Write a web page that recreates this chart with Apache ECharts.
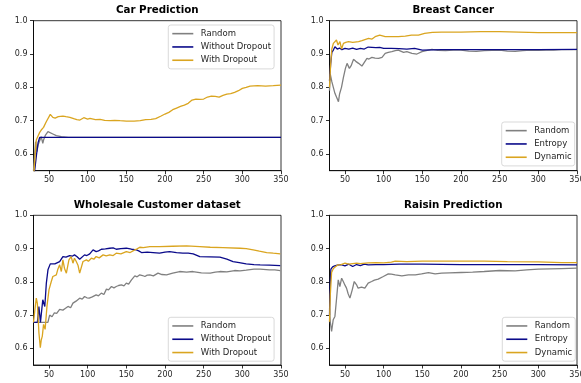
<!DOCTYPE html>
<html><head><meta charset="utf-8">
<script src="https://cdn.jsdelivr.net/npm/echarts@6/dist/echarts.min.js"></script>
<style>html,body{margin:0;padding:0;background:#fff}#c{width:581px;height:383px}</style>
</head><body><div id="c"></div><script>
// ---- tick labels ----
const xTicks = [50, 100, 150, 200, 250, 300, 350];
const yTicks = [0.6, 0.7, 0.8, 0.9, 1.0];
const titles = ['Car Prediction', 'Breast Cancer', 'Wholesale Customer dataset', 'Raisin Prediction'];
const namesDropout = ['Random', 'Without Dropout', 'With Dropout'];
const namesEntropy = ['Random', 'Entropy', 'Dynamic'];

// ---- Car Prediction ----
const carRandomX = [30, 31.5, 32.7, 34.4, 36, 38, 40, 42, 43, 45.5, 48.7, 50.5, 55, 59.5, 66, 75, 350];
const carRandomY = [0.55, 0.60, 0.637, 0.607, 0.628, 0.64, 0.652, 0.632, 0.642, 0.657, 0.667, 0.665, 0.66, 0.655, 0.652, 0.65, 0.65];
const carNoDropX = [30, 31.5, 34, 36, 38, 350];
const carNoDropY = [0.5, 0.55, 0.60, 0.635, 0.65, 0.65];
const carDropX = [30, 31, 33.6, 36, 38, 40, 43, 46.5, 49, 51.7, 53, 55, 58, 62, 68, 72, 77, 82, 86, 90, 95, 100, 103, 110, 116, 122, 129, 135, 142, 150, 160, 168, 175, 182, 188, 195, 200, 205, 210, 215, 220, 225, 230, 235, 240, 245, 250, 255, 260, 265, 270, 275, 280, 285, 290, 295, 300, 305, 310, 320, 330, 340, 350];
const carDropY = [0.52, 0.56, 0.642, 0.655, 0.665, 0.672, 0.68, 0.697, 0.70, 0.719, 0.716, 0.71, 0.708, 0.712, 0.714, 0.712, 0.71, 0.706, 0.703, 0.702, 0.709, 0.705, 0.707, 0.703, 0.704, 0.701, 0.70, 0.701, 0.70, 0.699, 0.699, 0.70, 0.703, 0.704, 0.706, 0.714, 0.72, 0.725, 0.733, 0.738, 0.743, 0.747, 0.752, 0.762, 0.765, 0.764, 0.765, 0.771, 0.774, 0.773, 0.771, 0.776, 0.78, 0.781, 0.785, 0.79, 0.797, 0.80, 0.804, 0.805, 0.804, 0.805, 0.807];

// ---- Breast Cancer ----
const bcRandomX = [30, 31, 33, 37, 41.6, 43, 45.5, 48, 50.6, 52.7, 55.7, 58, 61, 64, 67.6, 71.9, 74, 78.4, 81, 84.8, 89, 93.5, 97.9, 102, 106, 110.6, 115, 119, 125.8, 130, 136.6, 143, 149.6, 155, 162.5, 170, 180, 190, 200, 210, 220, 230, 240, 250, 260, 270, 280, 290, 300, 310, 320, 330, 340, 350];
const bcRandomY = [0.79, 0.84, 0.817, 0.782, 0.757, 0.78, 0.80, 0.83, 0.857, 0.872, 0.857, 0.865, 0.884, 0.878, 0.872, 0.864, 0.87, 0.887, 0.885, 0.89, 0.888, 0.887, 0.89, 0.902, 0.905, 0.907, 0.91, 0.912, 0.905, 0.907, 0.902, 0.90, 0.907, 0.91, 0.914, 0.911, 0.91, 0.912, 0.912, 0.909, 0.908, 0.91, 0.911, 0.912, 0.909, 0.908, 0.91, 0.912, 0.911, 0.912, 0.912, 0.913, 0.913, 0.913];
const bcEntropyX = [30, 31.5, 33, 35, 37, 40, 43, 46, 50, 55, 60, 65, 70, 75, 80, 85, 90, 95, 100, 110, 120, 130, 140, 150, 175, 200, 250, 300, 350];
const bcEntropyY = [0.82, 0.87, 0.905, 0.912, 0.922, 0.915, 0.918, 0.913, 0.917, 0.915, 0.918, 0.914, 0.917, 0.915, 0.921, 0.92, 0.919, 0.92, 0.917, 0.917, 0.916, 0.915, 0.917, 0.912, 0.913, 0.913, 0.913, 0.913, 0.914];
const bcDynamicX = [30, 31.5, 33, 35, 37, 39, 41, 43.5, 45.6, 48, 51, 54.6, 60, 67.6, 72, 80.5, 85, 89, 95, 102, 110, 119, 128, 136, 145, 153, 163, 175, 200, 225, 250, 275, 300, 325, 350];
const bcDynamicY = [0.80, 0.87, 0.915, 0.932, 0.928, 0.942, 0.927, 0.937, 0.915, 0.932, 0.935, 0.937, 0.935, 0.937, 0.94, 0.947, 0.945, 0.952, 0.957, 0.952, 0.952, 0.952, 0.954, 0.957, 0.957, 0.962, 0.965, 0.966, 0.966, 0.967, 0.967, 0.966, 0.964, 0.964, 0.964];

// ---- Wholesale Customer dataset ----
const wsRandomX = [30, 48.6, 50.9, 54, 57, 60, 63.8, 68, 71, 74.6, 78, 81, 85, 89.7, 93, 96, 99, 102, 106, 111, 114, 117.7, 121, 124.3, 127, 130.8, 134, 137, 140, 143.7, 147, 150, 153, 156.7, 159, 161, 164, 167.4, 171, 174, 177, 180.4, 185, 191, 196, 202, 210, 219, 228, 236, 247, 258.5, 265, 271, 280, 290, 297, 305, 315, 323, 335, 342, 349];
const wsRandomY = [0.678, 0.678, 0.70, 0.695, 0.707, 0.705, 0.717, 0.715, 0.72, 0.726, 0.722, 0.736, 0.742, 0.751, 0.748, 0.756, 0.752, 0.751, 0.755, 0.761, 0.758, 0.766, 0.762, 0.778, 0.776, 0.786, 0.782, 0.786, 0.789, 0.791, 0.788, 0.796, 0.793, 0.806, 0.812, 0.818, 0.815, 0.821, 0.819, 0.816, 0.82, 0.821, 0.818, 0.826, 0.822, 0.821, 0.826, 0.831, 0.829, 0.831, 0.827, 0.826, 0.829, 0.831, 0.83, 0.834, 0.833, 0.835, 0.838, 0.838, 0.836, 0.836, 0.834];
const wsNoDropX = [30, 35, 37, 39, 42, 44.6, 46.6, 48.7, 51.7, 54, 57.6, 60, 63.8, 68, 72, 76.7, 80, 83, 86, 89.7, 92, 96, 99, 102.7, 105, 107, 111, 114, 117.8, 123, 128.6, 133, 137, 143, 150, 156.7, 163, 166, 169.6, 177, 184.7, 193, 200, 206, 215, 223, 230, 236.5, 245, 258, 271, 280, 288, 296, 305, 315, 323, 335, 349];
const wsNoDropY = [0.678, 0.678, 0.726, 0.678, 0.746, 0.726, 0.796, 0.836, 0.854, 0.856, 0.854, 0.858, 0.861, 0.876, 0.874, 0.879, 0.877, 0.881, 0.876, 0.868, 0.872, 0.881, 0.879, 0.884, 0.882, 0.896, 0.891, 0.893, 0.898, 0.899, 0.901, 0.902, 0.898, 0.90, 0.901, 0.898, 0.896, 0.893, 0.888, 0.889, 0.888, 0.886, 0.889, 0.891, 0.888, 0.886, 0.886, 0.884, 0.876, 0.875, 0.874, 0.868, 0.861, 0.858, 0.854, 0.852, 0.851, 0.85, 0.849];
const wsDropX = [30, 32, 33.6, 35, 35.8, 37, 38.8, 40, 41.4, 43, 45, 47.4, 50, 51.5, 53, 55, 57, 59.5, 61.5, 63.8, 66, 68, 70, 72.5, 75.8, 78.7, 81, 83, 85.3, 87.5, 89.7, 92, 94, 98.4, 101, 104.8, 108, 111, 115, 120, 124, 128.6, 133, 137, 143, 150, 155, 161, 164, 167.4, 172, 180.4, 193, 210, 228, 245, 258.5, 275, 297, 305, 314, 322, 331.5, 340, 349];
const wsDropY = [0.678, 0.72, 0.751, 0.735, 0.741, 0.647, 0.602, 0.625, 0.637, 0.672, 0.657, 0.726, 0.776, 0.77, 0.801, 0.816, 0.81, 0.821, 0.838, 0.851, 0.831, 0.866, 0.841, 0.826, 0.866, 0.876, 0.856, 0.871, 0.861, 0.85, 0.826, 0.831, 0.861, 0.866, 0.862, 0.871, 0.868, 0.876, 0.872, 0.881, 0.878, 0.881, 0.879, 0.886, 0.884, 0.891, 0.888, 0.896, 0.899, 0.904, 0.903, 0.906, 0.906, 0.907, 0.908, 0.906, 0.904, 0.903, 0.901, 0.90, 0.896, 0.892, 0.888, 0.886, 0.884];

// ---- Raisin Prediction ----
const rsRandomX = [30, 31, 32.7, 34.8, 37, 39, 41.3, 43.4, 45.7, 47.8, 50, 52, 54, 56.4, 59.4, 62, 65, 67, 71.4, 75.7, 80, 84.5, 88, 93, 99.6, 106, 110, 115, 123.6, 132, 141, 149, 158, 166.6, 175, 185, 200, 215, 230, 250, 270, 285, 300, 315, 330, 350];
const rsRandomY = [0.72, 0.68, 0.651, 0.686, 0.696, 0.746, 0.806, 0.786, 0.811, 0.801, 0.79, 0.781, 0.765, 0.751, 0.776, 0.801, 0.791, 0.781, 0.784, 0.781, 0.796, 0.801, 0.805, 0.808, 0.816, 0.824, 0.823, 0.821, 0.818, 0.821, 0.821, 0.824, 0.828, 0.824, 0.826, 0.827, 0.828, 0.829, 0.831, 0.834, 0.833, 0.836, 0.838, 0.839, 0.84, 0.841];
const rsEntropyX = [30, 31, 31.8, 34, 36.7, 40, 45, 50, 55, 60, 65, 70, 75, 80, 90, 100, 120, 150, 200, 250, 300, 350];
const rsEntropyY = [0.70, 0.80, 0.838, 0.845, 0.848, 0.85, 0.852, 0.848, 0.853, 0.846, 0.852, 0.849, 0.853, 0.851, 0.852, 0.852, 0.853, 0.853, 0.852, 0.852, 0.852, 0.851];
const rsDynamicX = [30, 31, 32.7, 35, 38, 41, 45, 50, 55, 60, 65, 70, 80, 90, 100, 110, 115, 130, 150, 175, 200, 230, 260, 300, 330, 350];
const rsDynamicY = [0.68, 0.76, 0.828, 0.84, 0.846, 0.851, 0.852, 0.856, 0.853, 0.855, 0.856, 0.855, 0.857, 0.858, 0.857, 0.859, 0.862, 0.861, 0.862, 0.862, 0.862, 0.862, 0.861, 0.86, 0.858, 0.858];

// ---- build ----
const GRAY = '#808080', NAVY = '#0a0a8a', GOLD = '#DAA520';
const FONT = '"DejaVu Sans", sans-serif';
const gridBoxes = [
  {left: 33.5, top: 20.7, width: 247.5, height: 150},
  {left: 329.5, top: 20.7, width: 247.5, height: 150},
  {left: 33.5, top: 215.3, width: 247.5, height: 149.7},
  {left: 329.5, top: 215.3, width: 247.5, height: 149.7}
];
const legendPos = [
  {left: 168.3, top: 25},
  {left: 501.7, top: 122},
  {left: 168.3, top: 317.3},
  {left: 502.3, top: 317.3}
];
const titleTop = [5, 5, 200, 200];
const pairs = (xs, ys) => xs.map((x, i) => [x, ys[i]]);
const seriesDefs = [
  [0, namesDropout[0], GRAY, carRandomX, carRandomY],
  [0, namesDropout[1], NAVY, carNoDropX, carNoDropY],
  [0, namesDropout[2], GOLD, carDropX, carDropY],
  [1, namesEntropy[0], GRAY, bcRandomX, bcRandomY],
  [1, namesEntropy[1], NAVY, bcEntropyX, bcEntropyY],
  [1, namesEntropy[2], GOLD, bcDynamicX, bcDynamicY],
  [2, namesDropout[0], GRAY, wsRandomX, wsRandomY],
  [2, namesDropout[1], NAVY, wsNoDropX, wsNoDropY],
  [2, namesDropout[2], GOLD, wsDropX, wsDropY],
  [3, namesEntropy[0], GRAY, rsRandomX, rsRandomY],
  [3, namesEntropy[1], NAVY, rsEntropyX, rsEntropyY],
  [3, namesEntropy[2], GOLD, rsDynamicX, rsDynamicY]
];

const option = {
  animation: false,
  backgroundColor: '#fff',
  title: gridBoxes.map((g, i) => ({
    text: titles[i], left: g.left + g.width / 2, top: titleTop[i], textAlign: 'center', padding: 0,
    textStyle: {fontSize: 10.3, fontWeight: 'bold', fontFamily: FONT, color: '#000'}
  })),
  grid: gridBoxes.map(g => Object.assign({show: true, borderColor: '#000', borderWidth: 0.8, backgroundColor: 'transparent', containLabel: false, outerBoundsMode: 'none'}, g)),
  xAxis: gridBoxes.map((g, i) => ({
    type: 'value', gridIndex: i, min: 30, max: 350,
    axisLine: {show: true, onZero: false, lineStyle: {color: '#000', width: 0.8}},
    axisTick: {show: true, inside: false, length: 3.5, lineStyle: {color: '#000', width: 0.8}, customValues: xTicks},
    axisLabel: {customValues: xTicks, fontSize: 8, color: '#262626', margin: 5.5, fontFamily: FONT, showMinLabel: true, showMaxLabel: true, hideOverlap: false},
    splitLine: {show: false}
  })),
  yAxis: gridBoxes.map((g, i) => ({
    type: 'value', gridIndex: i, min: 0.55, max: 1.0,
    axisLine: {show: true, onZero: false, lineStyle: {color: '#000', width: 0.8}},
    axisTick: {show: true, inside: false, length: 3.5, lineStyle: {color: '#000', width: 0.8}, customValues: yTicks},
    axisLabel: {customValues: yTicks, fontSize: 8, color: '#262626', margin: 6, fontFamily: FONT, formatter: v => Number(v).toFixed(1)},
    splitLine: {show: false}
  })),
  legend: legendPos.map((p, i) => ({
    left: p.left, top: p.top, orient: 'vertical',
    data: (i % 2 === 0 ? namesDropout : namesEntropy),
    icon: 'rect', itemWidth: 21, itemHeight: 1.6, itemGap: 0,
    padding: [2, 3, 2, 4],
    borderColor: '#cfcfcf', borderWidth: 0.8, borderRadius: 2.5,
    backgroundColor: 'rgba(255,255,255,0.8)',
    selectedMode: false,
    textStyle: {fontSize: 8.5, lineHeight: 13.3, color: '#262626', fontFamily: FONT, padding: [0, 0, 0, 2.5]}
  })),
  series: seriesDefs.map(([gi, name, color, xs, ys]) => ({
    type: 'line', name, xAxisIndex: gi, yAxisIndex: gi,
    data: pairs(xs, ys), showSymbol: false, symbol: 'none', clip: true,
    color, lineStyle: {color, width: 1.3}, itemStyle: {color},
    emphasis: {disabled: true}
  }))
};
const chart = echarts.init(document.getElementById('c'), null, {renderer: 'canvas'});
chart.setOption(option);
</script></body></html>
